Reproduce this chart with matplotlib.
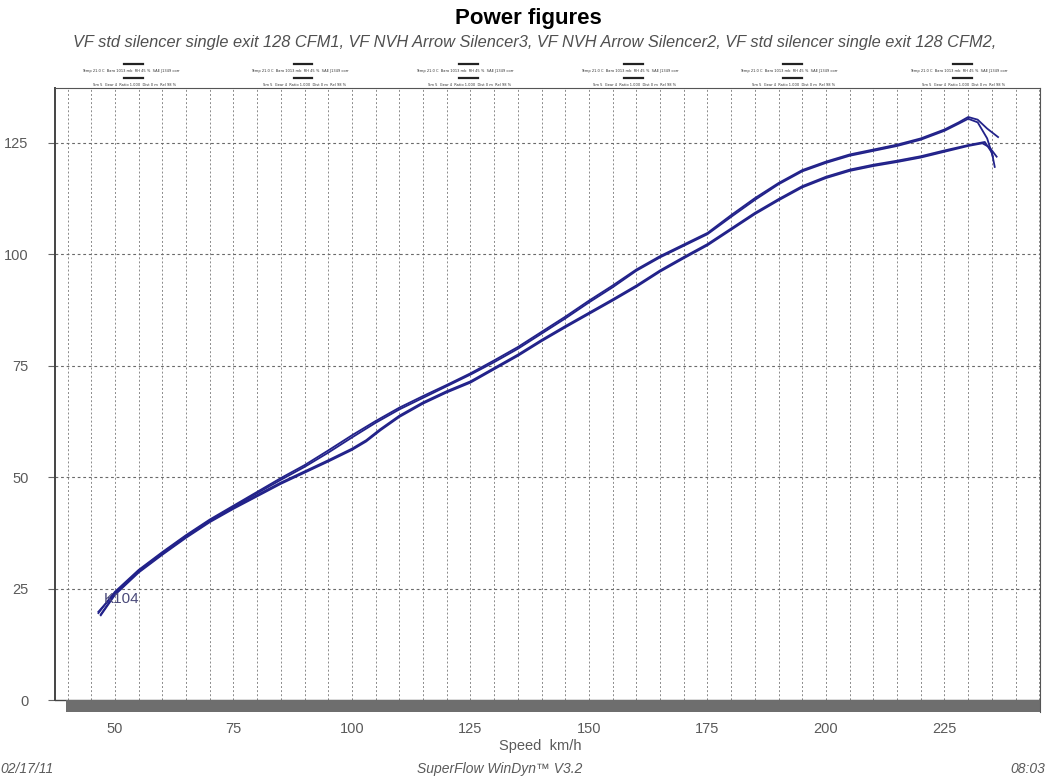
import matplotlib
matplotlib.use("Agg")
import matplotlib.pyplot as plt
from matplotlib.patches import Rectangle

# --- data ---
speed_hi_a = [46.5, 50, 55, 60, 65, 70, 75, 80, 85, 90, 95, 100, 105, 110, 115,
              120, 125, 130, 135, 140, 145, 150, 155, 160, 165, 170, 175, 180,
              185, 190, 195, 200, 205, 210, 215, 220, 225, 228, 230, 232, 234,
              236.3]
power_hi_a = [19.5, 24.3, 29.2, 33.2, 37.0, 40.5, 43.6, 46.7, 49.8, 52.7, 56.0,
              59.4, 62.6, 65.6, 68.2, 70.7, 73.3, 76.2, 79.2, 82.6, 86.0, 89.6,
              93.0, 96.6, 99.6, 102.2, 104.8, 108.8, 112.6, 116.0, 118.9, 120.8,
              122.4, 123.5, 124.6, 126.0, 128.0, 129.6, 130.8, 130.2, 128.2,
              126.3]
speed_hi_b = [46.5, 50, 55, 60, 65, 70, 75, 80, 85, 90, 95, 100, 105, 110, 115,
              120, 125, 130, 135, 140, 145, 150, 155, 160, 165, 170, 175, 180,
              185, 190, 195, 200, 205, 210, 215, 220, 225, 228, 230, 232, 234,
              235.2]
power_hi_b = [19.8, 24.0, 29.0, 33.0, 36.8, 40.3, 43.3, 46.4, 49.4, 52.3, 55.5,
              58.9, 62.2, 65.2, 67.8, 70.4, 73.0, 75.8, 78.8, 82.2, 85.6, 89.2,
              92.6, 96.3, 99.3, 101.9, 104.5, 108.4, 112.2, 115.7, 118.6, 120.5,
              122.1, 123.2, 124.3, 125.7, 127.7, 129.3, 130.4, 129.6, 126.0,
              121.9]
speed_lo_c = [47.0, 50, 55, 60, 65, 70, 75, 80, 85, 90, 95, 100, 103, 106, 110,
              115, 120, 125, 130, 135, 140, 145, 150, 155, 160, 165, 170, 175,
              180, 185, 190, 195, 200, 205, 210, 215, 220, 225, 230, 233.5, 235,
              235.6]
power_lo_c = [19.2, 23.8, 28.8, 32.8, 36.6, 40.1, 43.1, 46.0, 48.8, 51.3, 53.8,
              56.4, 58.3, 60.8, 63.8, 66.8, 69.3, 71.5, 74.5, 77.5, 80.8, 83.9,
              86.9, 89.9, 93.0, 96.4, 99.4, 102.3, 105.8, 109.3, 112.4, 115.3,
              117.4, 119.0, 120.1, 121.0, 122.0, 123.3, 124.5, 125.2, 122.8,
              119.6]
speed_lo_d = [47.0, 50, 55, 60, 65, 70, 75, 80, 85, 90, 95, 100, 103, 106, 110,
              115, 120, 125, 130, 135, 140, 145, 150, 155, 160, 165, 170, 175,
              180, 185, 190, 195, 200, 205, 210, 215, 220, 225, 230, 233, 234.5,
              236]
power_lo_d = [19.0, 23.6, 28.6, 32.6, 36.4, 39.9, 42.9, 45.7, 48.5, 51.0, 53.5,
              56.1, 58.0, 60.5, 63.5, 66.5, 69.0, 71.2, 74.2, 77.2, 80.5, 83.6,
              86.6, 89.6, 92.7, 96.1, 99.1, 102.0, 105.5, 109.0, 112.1, 115.0,
              117.1, 118.7, 119.8, 120.7, 121.7, 123.0, 124.3, 124.9, 124.0,
              121.9]

x_ticks = [50, 75, 100, 125, 150, 175, 200, 225]
y_ticks = [0, 25, 50, 75, 100, 125]
run_names = "VF std silencer single exit 128 CFM1, VF NVH Arrow Silencer3, " \
            "VF NVH Arrow Silencer2, VF std silencer single exit 128 CFM2,"

LINE = "#22228a"
GRID = "#8a8a8a"
TXT = "#5a5a5a"

fig = plt.figure(figsize=(10.45, 7.79), dpi=100, facecolor="white")
ax = fig.add_axes([0.0526, 0.086, 0.995 - 0.0526, 0.887 - 0.086])
ax.set_xlim(37.34, 245.1)
ax.set_ylim(-2.69, 137.3)

# dotted grid every 5 km/h, dashed every 25 units
for xv in range(40, 246, 5):
    ax.axvline(xv, color=GRID, lw=0.7, ls=(0, (2, 2.2)), zorder=1)
for yv in y_ticks[1:]:
    ax.axhline(yv, color="#6a6a6a", lw=0.8, ls=(0, (2.5, 2.5)), zorder=1)
ax.axhline(0, color="#444444", lw=1.0, zorder=2)
ax.add_patch(Rectangle((39.6, -2.69), 245.1 - 39.6, 2.69, color="#6e6e6e",
                       lw=0, zorder=2))

for xs, ys in ((speed_hi_a, power_hi_a), (speed_hi_b, power_hi_b),
               (speed_lo_c, power_lo_c), (speed_lo_d, power_lo_d)):
    ax.plot(xs, ys, color=LINE, lw=1.3, zorder=3, solid_joinstyle="round")

ax.text(47.6, 22.6, "K104", color="#4a4a7a", fontsize=11, va="center",
        family="Liberation Sans", zorder=4)

for s in ("top", "right"):
    ax.spines[s].set_color("#555555")
    ax.spines[s].set_linewidth(0.8)
ax.spines["bottom"].set_visible(False)
ax.spines["left"].set_color("#444444")
ax.spines["left"].set_linewidth(1.4)
ax.spines["left"].set_bounds(0, 137.3)

ax.set_xticks(x_ticks)
ax.set_yticks(y_ticks)
ax.tick_params(axis="x", length=0, pad=7, labelsize=10.5, labelcolor=TXT)
ax.tick_params(axis="y", length=5, pad=14, labelsize=10.5, labelcolor=TXT,
               color="#666666")
for lab in ax.get_xticklabels() + ax.get_yticklabels():
    lab.set_family("Liberation Sans")

fig.text(0.506, 0.976, "Power figures", ha="center", va="center",
         fontsize=16, fontweight="bold", family="Liberation Sans")
fig.text(0.512, 0.946, run_names, ha="center", va="center", fontsize=11.8,
         style="italic", color="#505050", family="Liberation Sans")
fig.text(0.517, 0.043, "Speed  km/h", ha="center", va="center", fontsize=10.5,
         color=TXT, family="Liberation Sans")
fig.text(0.0, 0.013, "02/17/11", ha="left", va="center", fontsize=10,
         style="italic", color=TXT, family="Liberation Sans")
fig.text(0.478, 0.013, "SuperFlow WinDyn\u2122 V3.2", ha="center", va="center",
         fontsize=10, style="italic", color=TXT, family="Liberation Sans")
fig.text(1.0, 0.013, "08:03", ha="right", va="center", fontsize=10,
         style="italic", color=TXT, family="Liberation Sans")

# tiny run-condition captions above the plot frame
caption_x = [0.125, 0.287, 0.445, 0.603, 0.755, 0.918]
for cx in caption_x:
    fig.text(cx, 0.909, "Temp 21.0 C  Baro 1013 mb  RH 45 %  SAE J1349 corr",
             ha="center", va="center", fontsize=2.6, color="#333333")
    fig.text(cx + 0.004, 0.891, "Sm 5  Gear 4  Ratio 1.000  Dist 0 m  Rel 98 %",
             ha="center", va="center", fontsize=2.6, color="#333333")
    for yy in (0.918, 0.900):
        fig.add_artist(plt.Line2D([cx - 0.006, cx + 0.012], [yy, yy],
                                  color="#222222", lw=1.6))

fig.savefig("out.png", dpi=100, facecolor="white")
